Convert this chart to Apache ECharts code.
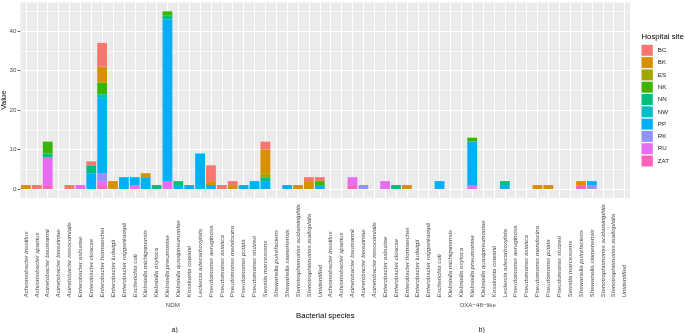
<!DOCTYPE html>
<html>
<head>
<meta charset="utf-8">
<script src="https://cdn.jsdelivr.net/npm/echarts@6/dist/echarts.min.js"></script>
<style>
  html, body { margin: 0; padding: 0; background: #fff; }
  #main { width: 685px; height: 333px; }
</style>
</head>
<body>
<div id="main"></div>
<script>
// species on the x axis, same list for both gene groups
const species = [
  'Achromobacter insolitus', 'Achromobacter spanius', 'Acinetobacter baumannii',
  'Acinetobacter bereziniae', 'Acinetobacter nosocomialis', 'Enterobacter asburiae',
  'Enterobacter cloacae', 'Enterobacter hormaechei', 'Enterobacter ludwigii',
  'Enterobacter roggenkampii', 'Escherichia coli', 'Klebsiella michiganensis',
  'Klebsiella oxytoca', 'Klebsiella pneumoniae', 'Klebsiella quasipneumoniae',
  'Kosakonia cowanii', 'Leclercia adecarboxylata', 'Pseudomonas aeruginosa',
  'Pseudomonas asiatica', 'Pseudomonas mendocina', 'Pseudomonas putida',
  'Pseudomonas stutzeri', 'Serratia marcescens', 'Shewanella putrefaciens',
  'Shewanella xiamenensis', 'Stenotrophomonas acidaminiphila',
  'Stenotrophomonas maltophilia', 'Unidentified'
];
const groups = ['NDM', 'OXA\u221248\u2212like'];
const sites = ['BC', 'BK', 'ES', 'NK', 'NN', 'NW', 'PP', 'RK', 'RU', 'ZAT'];
const siteColors = ['#F8766D', '#D89000', '#A3A500', '#39B600', '#00BF7D',
                    '#00BFC4', '#00B0F6', '#9590FF', '#E76BF3', '#FF62BC'];

// counts per hospital site, one value per species (order as above)
const ndmValues = {
  BC:  [0,1,0,0,1,0,1,6,0,0, 0,0,0,0,0,0,0,4,1,1, 0,0,2,0,0,0,1,1],
  BK:  [1,0,0,0,0,0,0,4,2,0, 0,1,0,0,0,0,0,1,0,1, 0,0,6,0,0,1,2,0],
  ES:  [0,0,0,0,0,0,0,0,0,0, 0,0,0,0,0,0,0,0,0,0, 0,0,1,0,0,0,0,0],
  NK:  [0,0,3,0,0,0,0,3,0,0, 0,0,0,1,0,0,0,0,0,0, 0,0,0,0,0,0,0,1],
  NN:  [0,0,1,0,0,0,2,0,0,0, 0,0,1,1,1,0,0,0,0,0, 0,0,1,0,0,0,0,0],
  NW:  [0,0,0,0,0,0,0,1,0,0, 0,0,0,0,0,0,0,0,0,0, 0,0,0,0,0,0,0,0],
  PP:  [0,0,0,0,0,0,4,19,0,3, 2,3,0,41,1,1,9,1,0,0, 1,2,2,0,1,0,0,1],
  RK:  [0,0,0,0,0,0,0,2,0,0, 0,0,0,0,0,0,0,0,0,0, 0,0,0,0,0,0,0,0],
  RU:  [0,0,7,0,0,1,0,1,0,0, 1,0,0,2,0,0,0,0,0,0, 0,0,0,0,0,0,0,0],
  ZAT: [0,0,1,0,0,0,0,1,0,0, 0,0,0,0,0,0,0,0,0,0, 0,0,0,0,0,0,0,0]
};
const oxaValues = {
  BC:  [0,0,0,0,0,0,0,0,0,0, 0,0,0,0,0,0,0,0,0,0, 0,0,0,0,0,0,0,0],
  BK:  [0,0,0,0,0,0,0,1,0,0, 0,0,0,0,0,0,0,0,0,1, 1,0,0,1,0,0,0,0],
  ES:  [0,0,0,0,0,0,0,0,0,0, 0,0,0,0,0,0,0,0,0,0, 0,0,0,0,0,0,0,0],
  NK:  [0,0,0,0,0,0,0,0,0,0, 0,0,0,1,0,0,0,0,0,0, 0,0,0,0,0,0,0,0],
  NN:  [0,0,0,0,0,0,1,0,0,0, 0,0,0,0,0,0,1,0,0,0, 0,0,0,0,0,0,0,0],
  NW:  [0,0,0,0,0,0,0,0,0,0, 0,0,0,0,0,0,0,0,0,0, 0,0,0,0,0,0,0,0],
  PP:  [0,0,0,0,0,0,0,0,0,0, 2,0,0,11,0,0,1,0,0,0, 0,0,0,0,1,0,0,0],
  RK:  [0,0,0,1,0,0,0,0,0,0, 0,0,0,0,0,0,0,0,0,0, 0,0,0,0,1,0,0,0],
  RU:  [0,0,2,0,0,2,0,0,0,0, 0,0,0,1,0,0,0,0,0,0, 0,0,0,0,0,0,0,0],
  ZAT: [0,0,1,0,0,0,0,0,0,0, 0,0,0,0,0,0,0,0,0,0, 0,0,0,1,0,0,0,0]
};
const yTicks = [0, 10, 20, 30, 40];
const yMinor = [5, 15, 25, 35, 45];

const categories = species.concat(species);
const font = 'Liberation Sans, Arial, sans-serif';

// ggplot stacks the first level on top, so ZAT goes in first
const barSeries = sites.slice().reverse().map(site => ({
  name: site,
  type: 'bar',
  stack: 'total',
  barWidth: '90%',
  z: 3,
  itemStyle: { color: siteColors[sites.indexOf(site)] },
  emphasis: { disabled: true },
  data: ndmValues[site].concat(oxaValues[site])
}));

// white panel grid like theme_grey
const gridLines = {
  type: 'line',
  data: categories.map(() => null),
  silent: true,
  z: 1,
  markLine: {
    silent: true,
    symbol: 'none',
    z: 1,
    label: { show: false },
    animation: false,
    data: [].concat(
      yMinor.map(v => ({ yAxis: v, lineStyle: { color: '#fff', width: 0.6, type: 'solid' } })),
      yTicks.map(v => ({ yAxis: v, lineStyle: { color: '#fff', width: 1.1, type: 'solid' } })),
      categories.map((c, i) => ({ xAxis: i, lineStyle: { color: '#fff', width: 1.1, type: 'solid' } }))
    )
  }
};

const chart = echarts.init(document.getElementById('main'));
chart.setOption({
  animation: false,
  textStyle: { fontFamily: font },
  grid: {
    left: 20.5, right: 55, top: 2.4, bottom: 135.1,
    outerBoundsMode: 'none',
    containLabel: false,
    show: true, backgroundColor: '#EBEBEB', borderWidth: 0
  },
  legend: {
    orient: 'vertical',
    left: 641.5, top: 44.8,
    itemWidth: 11.3, itemHeight: 11, itemGap: 1.3,
    icon: 'rect',
    padding: 0,
    selectedMode: false,
    data: sites,
    textStyle: { fontSize: 6.2, color: '#1a1a1a', fontFamily: font }
  },
  xAxis: [
    {
      type: 'category',
      data: categories,
      axisLine: { show: false },
      axisTick: { alignWithLabel: true, length: 2.7, lineStyle: { color: '#333', width: 0.8 } },
      // labels start at a common baseline below the axis and run upwards
      axisLabel: {
        interval: 0, rotate: 90, align: 'left', fontSize: 6.2, fontStyle: 'italic',
        color: '#4D4D4D', margin: 99.5, fontFamily: font
      },
      splitLine: { show: false },
      name: 'Bacterial species',
      nameLocation: 'middle',
      nameGap: 113.5,
      nameMoveOverlap: false,
      nameTextStyle: { fontSize: 7.75, color: '#000', fontFamily: font }
    },
    {
      type: 'category',
      data: groups,
      position: 'bottom',
      offset: 104,
      axisLine: { show: false },
      axisTick: { show: false },
      axisLabel: { fontSize: 6.2, color: '#4D4D4D', margin: 0, fontFamily: font },
      splitLine: { show: false }
    }
  ],
  yAxis: {
    type: 'value',
    min: -2.25,
    max: 47.25,
    axisLine: { show: false },
    splitLine: { show: false },
    axisTick: { show: true, customValues: yTicks, length: 2.7, lineStyle: { color: '#333', width: 0.8 } },
    axisLabel: { customValues: yTicks, fontSize: 6.2, color: '#4D4D4D', margin: 4, fontFamily: font },
    name: 'Value',
    nameLocation: 'middle',
    nameGap: 13,
    nameMoveOverlap: false,
    nameTextStyle: { fontSize: 7.75, color: '#000', fontFamily: font }
  },
  graphic: [
    { type: 'text', left: 641.5, top: 33, style: { text: 'Hospital site', fontSize: 7.75, fill: '#000', fontFamily: font } },
    { type: 'text', left: 171.5, top: 326.5, style: { text: 'a)', fontSize: 7, fill: '#222', fontFamily: font } },
    { type: 'text', left: 478.5, top: 326.5, style: { text: 'b)', fontSize: 7, fill: '#222', fontFamily: font } }
  ],
  series: [gridLines].concat(barSeries)
});
</script>
</body>
</html>
